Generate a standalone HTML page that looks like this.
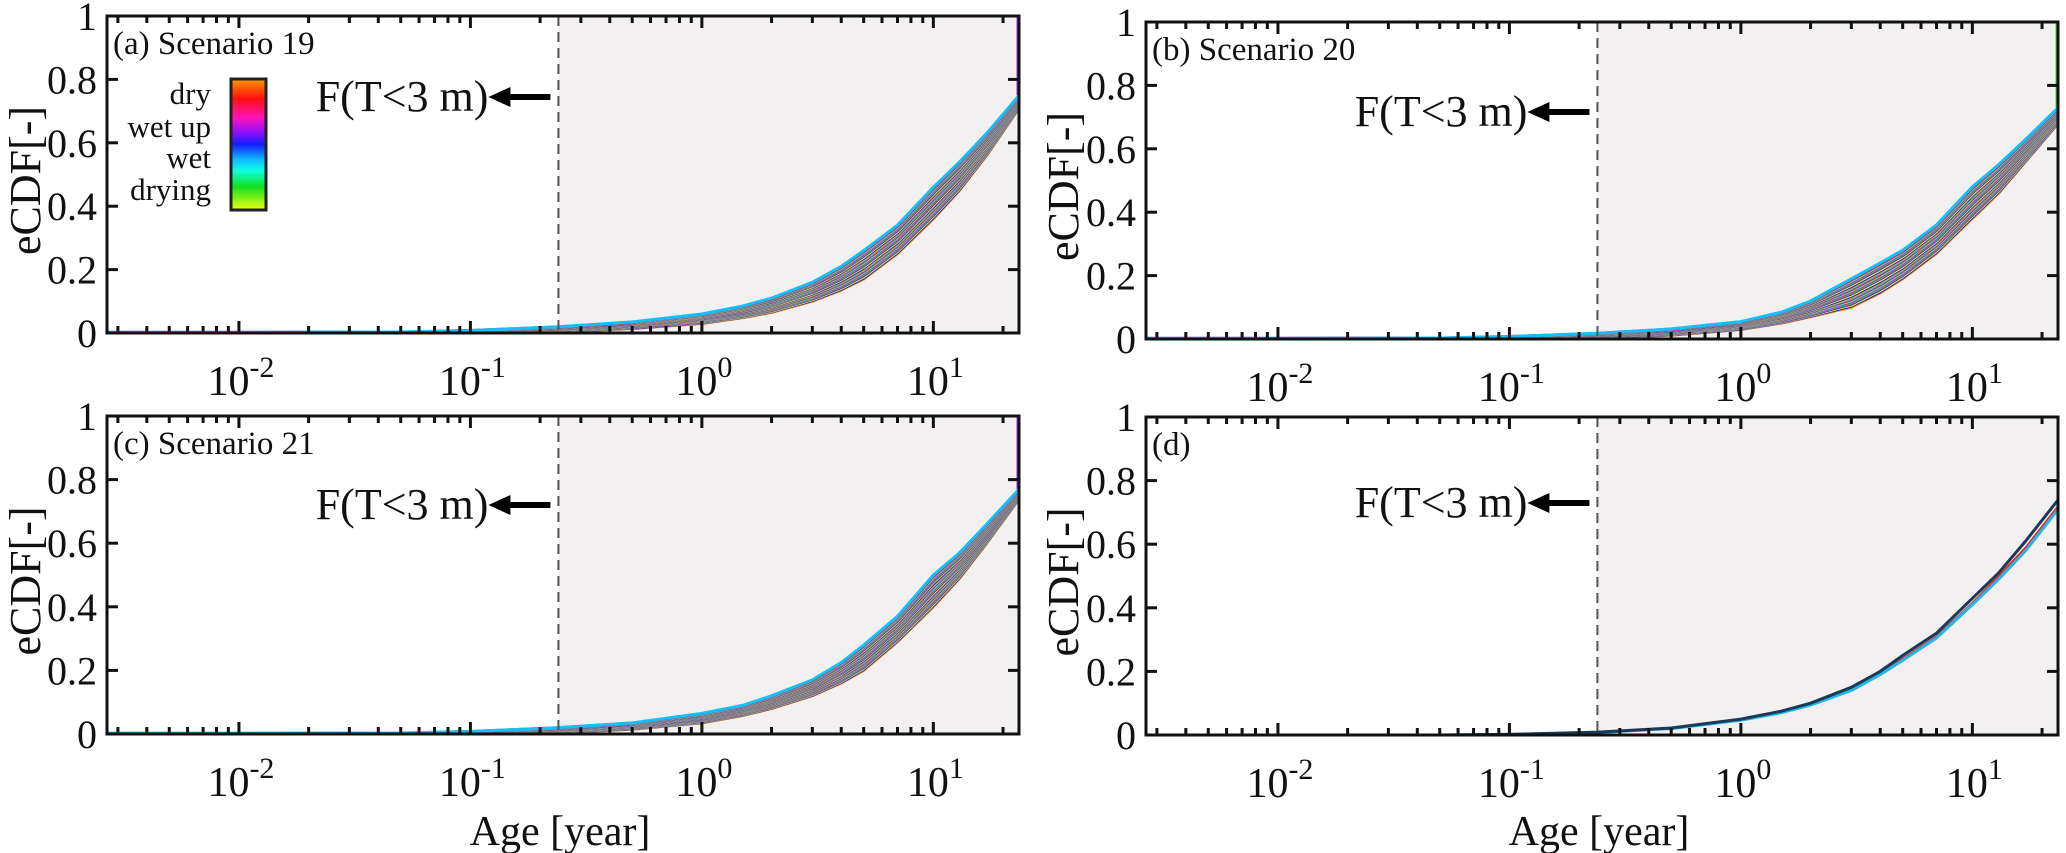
<!DOCTYPE html>
<html><head><meta charset="utf-8">
<style>
html,body{margin:0;padding:0;background:#fff;}
svg{display:block;font-family:"Liberation Serif",serif;}
</style></head>
<body>
<svg id="fig" width="2066" height="853" viewBox="0 0 2066 853" xmlns="http://www.w3.org/2000/svg">
<defs>
<linearGradient id="cbar" x1="0" y1="0" x2="0" y2="1">
<stop offset="0" stop-color="#ff9900"/><stop offset="0.15" stop-color="#ff1010"/><stop offset="0.3" stop-color="#ff10c0"/><stop offset="0.42" stop-color="#8010ff"/><stop offset="0.5" stop-color="#1020ff"/><stop offset="0.62" stop-color="#10c0ff"/><stop offset="0.7" stop-color="#10ffe0"/><stop offset="0.82" stop-color="#10e020"/><stop offset="1" stop-color="#f0ff10"/>
</linearGradient>
</defs>
</svg>
<script>
// ---- data ----
const ages = [0.0027, 0.01, 0.05, 0.1, 0.24, 0.5, 1, 1.5, 2, 3, 4, 5, 7, 10, 13, 17, 23.5];
const lowA = [0, 0, 0, 0.001, 0.004, 0.014, 0.03, 0.048, 0.065, 0.1, 0.135, 0.17, 0.25, 0.36, 0.45, 0.56, 0.71];
const upA  = [0.002, 0.002, 0.003, 0.008, 0.02, 0.035, 0.06, 0.085, 0.11, 0.16, 0.21, 0.26, 0.34, 0.46, 0.54, 0.63, 0.75];
const lowB = [0, 0, 0, 0.001, 0.003, 0.012, 0.03, 0.05, 0.07, 0.1, 0.145, 0.19, 0.27, 0.38, 0.46, 0.56, 0.68];
const upB  = [0.002, 0.002, 0.003, 0.008, 0.018, 0.032, 0.055, 0.085, 0.12, 0.19, 0.24, 0.28, 0.36, 0.48, 0.55, 0.63, 0.73];
const lowC = [0, 0, 0, 0.001, 0.004, 0.015, 0.035, 0.058, 0.08, 0.12, 0.16, 0.2, 0.29, 0.4, 0.49, 0.6, 0.74];
const upC  = [0.002, 0.002, 0.003, 0.008, 0.02, 0.035, 0.065, 0.09, 0.12, 0.17, 0.225, 0.28, 0.37, 0.5, 0.57, 0.66, 0.77];
const dDark = [0, 0, 0, 0.002, 0.009, 0.022, 0.05, 0.075, 0.1, 0.15, 0.2, 0.25, 0.32, 0.43, 0.51, 0.61, 0.74];
const dCyan = [0, 0, 0, 0.002, 0.008, 0.02, 0.047, 0.07, 0.094, 0.14, 0.19, 0.235, 0.305, 0.41, 0.49, 0.58, 0.71];
const dRed  = [0, 0, 0, 0.002, 0.008, 0.021, 0.048, 0.072, 0.097, 0.145, 0.195, 0.24, 0.31, 0.415, 0.5, 0.59, 0.72];
const yTicks = [0, 0.2, 0.4, 0.6, 0.8, 1];
const yTickLabels = ["0", "0.2", "0.4", "0.6", "0.8", "1"];
const xDecades = [-2, -1, 0, 1];
const xTickLabels = ["-2", "-1", "0", "1"];
const cutoffAge = 0.24;
const bandColors = ["#ff9900","#ff1010","#ff10c0","#8010ff","#1020ff","#10c0ff","#10ffe0","#10e020","#f0ff10"];

const NS = "http://www.w3.org/2000/svg";
const svg = document.getElementById('fig');
function mk(tag, attrs, parent){
  const e = document.createElementNS(NS, tag);
  for (const k in attrs) e.setAttribute(k, attrs[k]);
  (parent||svg).appendChild(e);
  return e;
}
function txt(parent, x, y, str, size, anchor, rot){
  const t = mk('text', {x: 0, y: 0, 'font-size': size, 'text-anchor': anchor, fill: '#111', 'xml:space': 'preserve',
    transform: `translate(${x},${y})${rot ? ' rotate(' + rot + ')' : ''}`}, parent);
  t.textContent = str;
  return t;
}
const LOGMIN = -2.57, LOGMAX = 1.37;

function panel(cfg){
  const g = mk('g', {});
  
  
  const L = cfg.x0, R = cfg.x1, T = cfg.y0, B = cfg.y1;
  const sx = v => L + (Math.log10(v) - LOGMIN) / (LOGMAX - LOGMIN) * (R - L);
  const sy = v => B - v * (B - T);
  const xc = sx(cutoffAge);
  const sh = mk('rect', {x: xc, y: T, width: R - xc, height: B - T, fill: '#f2f0f1'}, g);
  
  
  const path = arr => ages.map((a, i) => (i ? 'L' : 'M') + sx(a).toFixed(1) + ',' + sy(arr[i]).toFixed(1)).join(' ');
  if (cfg.low) {
    const N = 27;
    for (let k = 0; k < N; k++) {
      const t = k / (N - 1);
      const arr = ages.map((a, i) => cfg.low[i] + t * (cfg.up[i] - cfg.low[i]));
      const c = bandColors[(k * 4) % bandColors.length];
      const p = mk('path', {d: path(arr), fill: 'none', stroke: c, 'stroke-width': 3, 'stroke-linejoin': 'round'}, g);
      
      
    }
    const end = cfg.up[cfg.up.length - 1];
    const j = mk('line', {x1: R - 1, x2: R - 1, y1: sy(end), y2: T, stroke: cfg.jump, 'stroke-width': 3}, g);
    
    
  } else {
    [[dRed, '#ff2020', 2], [dCyan, '#20b8e8', 3], [dDark, '#1a3a5a', 3]].forEach(s => {
      const p = mk('path', {d: path(s[0]), fill: 'none', stroke: s[1], 'stroke-width': s[2], 'stroke-linejoin': 'round'}, g);
      
      
    });
  }
  const dl = mk('line', {x1: xc, x2: xc, y1: T, y2: B, stroke: '#555', 'stroke-width': 2, 'stroke-dasharray': '10 6'}, g);
  
  
  const box = mk('rect', {x: L, y: T, width: R - L, height: B - T, fill: 'none', stroke: '#111', 'stroke-width': 3}, g);
  
  
  yTicks.forEach((v, i) => {
    const y = sy(v);
    mk('line', {x1: L, x2: L + 11, y1: y, y2: y, stroke: '#111', 'stroke-width': 3}, g);
    mk('line', {x1: R, x2: R - 11, y1: y, y2: y, stroke: '#111', 'stroke-width': 3}, g);
    const t = txt(g, L - 10, y + 14, yTickLabels[i], 40, 'end');
    
    
  });
  for (let d = -3; d <= 1; d++) {
    for (let m = 1; m <= 9; m++) {
      const v = m * Math.pow(10, d);
      const lv = Math.log10(v);
      if (lv < LOGMIN || lv > LOGMAX) continue;
      const x = sx(v), len = m === 1 ? 12 : 7;
      mk('line', {x1: x, x2: x, y1: B, y2: B - len, stroke: '#111', 'stroke-width': 3}, g);
      mk('line', {x1: x, x2: x, y1: T, y2: T + len, stroke: '#111', 'stroke-width': 3}, g);
    }
  }
  xDecades.forEach((d, i) => {
    const x = sx(Math.pow(10, d));
    const t = mk('text', {x: 0, y: 0, 'font-size': 42, 'text-anchor': 'middle', fill: '#111', transform: `translate(${x + 2},${B + 62})`}, g);
    
    
    const a = document.createElementNS(NS, 'tspan'); a.textContent = '10'; t.appendChild(a);
    const b = document.createElementNS(NS, 'tspan'); b.setAttribute('dy', -18); b.setAttribute('font-size', 30); b.textContent = xTickLabels[i]; t.appendChild(b);
  });
  const yl = txt(g, cfg.ylx, (T + B) / 2 + 6, 'eCDF[-]', 44, 'middle', -90);
  
  
  const pl = txt(g, L + 6, T + 38, cfg.label, 33, 'start');
  
  
  const ay = cfg.ay;
  const ft = txt(g, xc - 70, ay + 14, 'F(T<3 m)', 44, 'end');
  
  
  const ar = mk('g', {}, g);
  
  
  mk('line', {x1: xc - 50, x2: xc - 8, y1: ay, y2: ay, stroke: '#000', 'stroke-width': 6}, ar);
  mk('polygon', {points: `${xc - 70},${ay} ${xc - 48},${ay - 10} ${xc - 48},${ay + 10}`, fill: '#000'}, ar);
  if (cfg.xlabel) {
    const xl = txt(g, L + 453, 845, 'Age [year]', 42, 'middle');
    
    
  }
  if (cfg.cbar) {
    const cb = mk('g', {}, g);
    
    
    mk('rect', {x: 231, y: 79, width: 35, height: 131, fill: 'url(#cbar)', stroke: '#222', 'stroke-width': 3}, cb);
    [['dry', 104], ['wet up', 137], ['wet', 168], ['drying', 200]].forEach(s => {
      const t = txt(cb, 211, s[1], s[0], 31, 'end');
      
      
    });
  }
}
panel({id: 'a', x0: 107, x1: 1019, y0: 16, y1: 333, low: lowA, up: upA, jump: '#a020ff', ylx: 40, label: '(a)  Scenario 19', ay: 97, cbar: true});
panel({id: 'b', x0: 1146, x1: 2058, y0: 22, y1: 339, low: lowB, up: upB, jump: '#30e030', ylx: 1078, label: '(b)  Scenario 20', ay: 112});
panel({id: 'c', x0: 107, x1: 1019, y0: 416, y1: 734, low: lowC, up: upC, jump: '#a020ff', ylx: 40, label: '(c)  Scenario 21', ay: 505, xlabel: true});
panel({id: 'd', x0: 1146, x1: 2058, y0: 417, y1: 735, ylx: 1078, label: '(d)', ay: 503, xlabel: true});
</script>
</body></html>
